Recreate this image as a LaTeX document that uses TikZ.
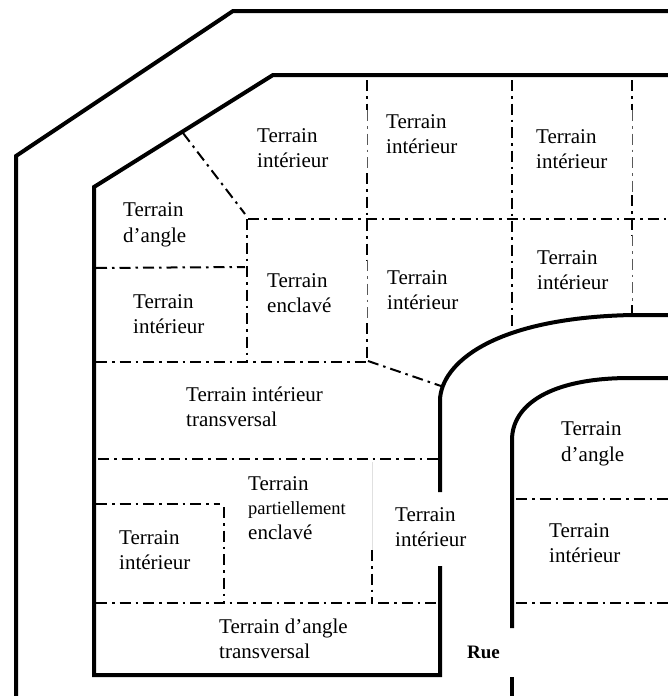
\documentclass[tikz,border=0pt]{standalone}
\usepackage{fontspec}
\setmainfont{Liberation Serif}
\tikzset{
  road/.style={line width=4pt,line cap=butt,line join=miter},
  lot/.style={line width=2pt,dash pattern=on 11pt off 5pt on 2.5pt off 5pt},
  thinlot/.style={line width=1pt,draw=black!65,dash pattern=on 11pt off 5pt on 2.5pt off 5pt},
  faint/.style={line width=1pt,draw=black!12},
  lbl/.style={anchor=west,align=left,inner sep=0pt,font=\fontsize{21}{25.5}\selectfont},
}
\begin{document}
\begin{tikzpicture}[x=1pt,y=-1pt]
\useasboundingbox (0,0) rectangle (668,696);
% roads
\draw[road] (16,696) -- (16,156) -- (233,11) -- (668,11);
\draw[road] (668,75) -- (273,75) -- (94,187) -- (94,675) -- (440,675) -- (440,566);
\draw[road] (440,492) -- (440,400) .. controls (441,365) and (490,318) .. (632,315) -- (668,315);
\draw[road] (512,628) -- (512,440) .. controls (512,405) and (550,378) .. (630,378) -- (668,378);
\draw[road] (512,677) -- (512,696);
% lot lines
\draw[lot] (183,133) -- (245,214);
\draw[lot] (248,219) -- (668,219);
\draw[lot] (247,219) -- (247,362);
\draw[lot] (96,268) -- (245,267);
\draw[lot] (96,362) -- (368,362);
\draw[lot] (368,361) -- (441,386);
\draw[lot] (367,80) -- (367,110);
\draw[thinlot] (367,110) -- (367,173);
\draw[lot] (367,173) -- (367,260);
\draw[thinlot] (367,260) -- (367,323);
\draw[lot] (367,323) -- (367,361);
\draw[lot] (512,80) -- (512,330);
\draw[lot] (632,80) -- (632,110);
\draw[thinlot] (632,110) -- (632,195);
\draw[lot] (632,195) -- (632,235);
\draw[thinlot] (632,235) -- (632,305);
\draw[lot] (632,305) -- (632,315);
\draw[lot] (98,459) -- (438,459);
\draw[faint] (372,462) -- (372,550);
\draw[lot] (372,550) -- (372,602);
\draw[lot] (96,504) -- (220,504);
\draw[lot] (224,507) -- (224,602);
\draw[lot] (96,603) -- (436,603);
\draw[lot] (516,499) -- (668,499);
\draw[lot] (516,603) -- (668,603);
% labels
\node[lbl] (a1) at (257,148) {Terrain\\intérieur};
\node[lbl] (a2) at (386,134) {Terrain\\intérieur};
\node[lbl] (a3) at (536,149) {Terrain\\intérieur};
\node[lbl] (a4) at (123,225) {Terrain\\d’angle};
\node[lbl] (a5) at (133,314) {Terrain\\intérieur};
\node[lbl] (a6) at (267,293) {Terrain\\enclavé};
\node[lbl] (a7) at (387,290) {Terrain\\intérieur};
\node[lbl] (a8) at (537,270) {Terrain\\intérieur};
\node[lbl] (a9) at (186,407) {Terrain intérieur\\transversal};
\node[lbl] (a10) at (561,444) {Terrain\\d’angle};
\node[lbl] (a11) at (549,543) {Terrain\\intérieur};
\node[lbl] (a12) at (248,508) {Terrain\\[-1pt]{\fontsize{18.5}{22}\selectfont partiellement}\\[-1pt]enclavé};
\node[lbl] (a13) at (119,550) {Terrain\\intérieur};
\node[lbl] (a14) at (395,527) {Terrain\\intérieur};
\node[lbl] (a15) at (219,639) {Terrain d’angle\\transversal};
\node[lbl,font=\bfseries\fontsize{19}{22}\selectfont] (rue) at (467,652) {Rue};
\end{tikzpicture}
\end{document}
